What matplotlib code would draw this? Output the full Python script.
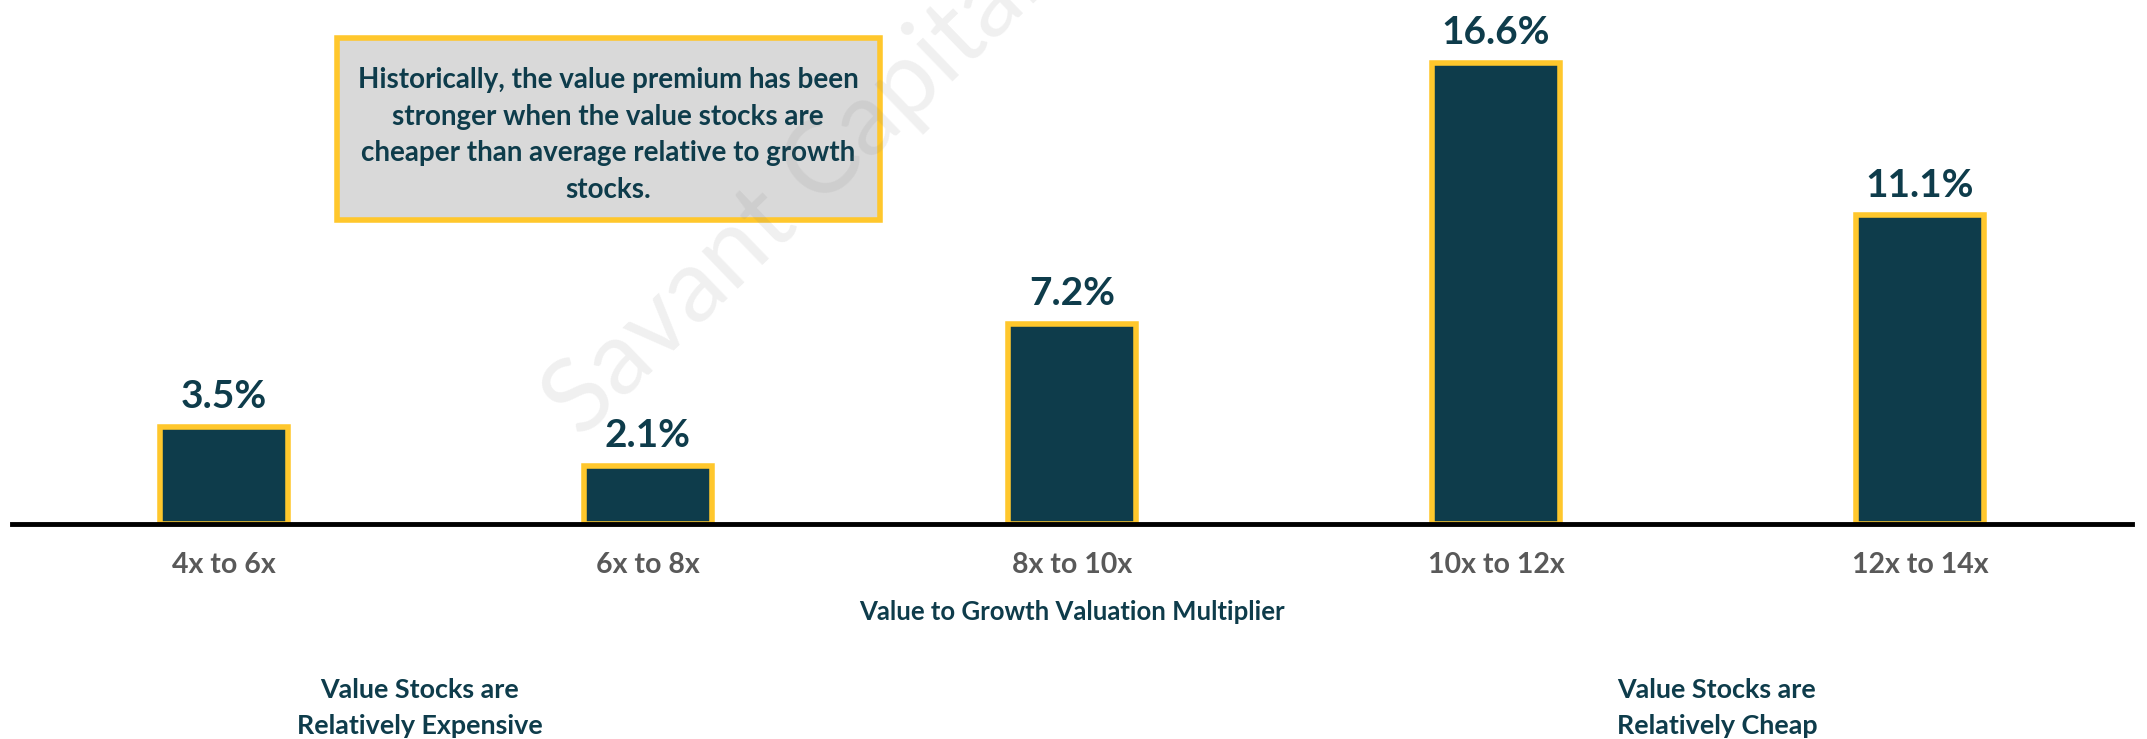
import matplotlib.pyplot as plt
import matplotlib.patches as patches

categories = ["4x to 6x", "6x to 8x", "8x to 10x", "10x to 12x", "12x to 14x"]
premium = [3.5, 2.1, 7.2, 16.6, 11.1]

note_text = ("Historically, the value premium has been\n"
             "stronger when the value stocks are\n"
             "cheaper than average relative to growth\n"
             "stocks.")
x_title = "Value to Growth Valuation Multiplier"
left_note = "Value Stocks are\nRelatively Expensive"
right_note = "Value Stocks are\nRelatively Cheap"
watermark = "Savant Capital"

NAVY = "#0E3C4B"
GOLD = "#FFC72C"
GREY = "#595959"

plt.rcParams["font.family"] = ["Lato", "DejaVu Sans"]

W, H = 2147, 739
fig = plt.figure(figsize=(W / 100, H / 100), dpi=100)
fig.patch.set_facecolor("white")

ax = fig.add_axes([12 / W, 1 - 524 / H, 2120 / W, 524 / H])
ax.patch.set_alpha(0)
x = range(len(categories))
bars = ax.bar(x, premium, width=0.3, color=NAVY, edgecolor=GOLD, linewidth=4, zorder=2)
for b, v in zip(bars, premium):
    ax.annotate(f"{v:.1f}%", (b.get_x() + b.get_width() / 2, v), xytext=(0, 9),
                textcoords="offset points", ha="center", va="bottom",
                fontsize=28, fontweight="bold", color=NAVY)

ax.set_xlim(-0.5, 4.5)
ax.set_ylim(0, 18.85)
ax.set_xticks(list(x))
ax.set_xticklabels(categories, fontsize=20.5, fontweight="bold", color=GREY)
ax.tick_params(axis="x", length=0, pad=20)
ax.set_yticks([])
for s in ["top", "left", "right"]:
    ax.spines[s].set_visible(False)
ax.spines["bottom"].set_linewidth(3.5)
ax.spines["bottom"].set_zorder(5)
ax.set_xlabel(x_title, fontsize=18.5, fontweight="bold", color=NAVY, labelpad=16)

# callout box
fig.patches.append(patches.Rectangle((337 / W, 1 - 220 / H), 543 / W, 182 / H,
                                     transform=fig.transFigure, facecolor="#D9D9D9",
                                     edgecolor=GOLD, linewidth=4, zorder=3))
fig.text(608 / W, 1 - 135 / H, note_text, ha="center", va="center", fontsize=20,
         fontweight="bold", color=NAVY, linespacing=1.52, zorder=4)

fig.text(420 / W, 1 - 708 / H, left_note, ha="center", va="center", fontsize=19.4,
         fontweight="bold", color=NAVY, linespacing=1.6)
fig.text(1717 / W, 1 - 708 / H, right_note, ha="center", va="center", fontsize=19.4,
         fontweight="bold", color=NAVY, linespacing=1.6)

# translucent watermark laid over the whole chart
fig.text(581 / W, 1 - 440 / H, watermark, fontsize=74, color="#808080", alpha=0.12,
         rotation=44, rotation_mode="anchor", ha="left", va="baseline", zorder=10)

fig.savefig("out.png", dpi=100)
